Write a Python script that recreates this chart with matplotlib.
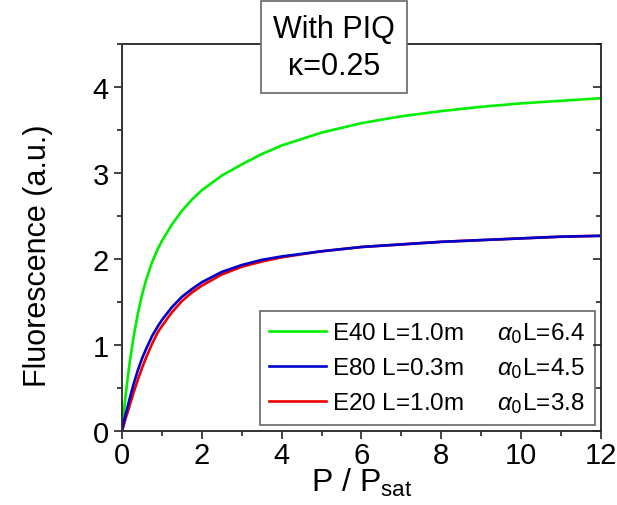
import matplotlib
matplotlib.use("Agg")
import matplotlib.pyplot as plt
from matplotlib.ticker import MultipleLocator

plt.rcParams['font.family'] = ['Liberation Sans', 'DejaVu Sans']
plt.rcParams['mathtext.fontset'] = 'custom'
plt.rcParams['mathtext.rm'] = 'Liberation Sans'
plt.rcParams['mathtext.it'] = 'Liberation Sans:italic'

# P / Psat sample points
p_ratio = [0, 0.05, 0.1, 0.15, 0.2, 0.3, 0.4, 0.5, 0.6, 0.75, 0.9, 1, 1.25, 1.5, 1.75,
           2, 2.5, 3, 3.5, 4, 5, 6, 7, 8, 9, 10, 11, 12]

# fluorescence (a.u.) for each fibre
fl_e40 = [0, 0.24, 0.45, 0.64, 0.82, 1.12, 1.37, 1.58, 1.75, 1.96, 2.12, 2.21, 2.40, 2.56,
          2.69, 2.80, 2.97, 3.10, 3.22, 3.32, 3.47, 3.58, 3.66, 3.72, 3.77, 3.81, 3.84, 3.87]
fl_e80 = [0, 0.11, 0.21, 0.30, 0.39, 0.56, 0.71, 0.84, 0.95, 1.10, 1.22, 1.29, 1.44, 1.56,
          1.65, 1.73, 1.85, 1.93, 1.99, 2.03, 2.09, 2.14, 2.17, 2.20, 2.22, 2.24, 2.26, 2.27]
fl_e20 = [0, 0.08, 0.16, 0.23, 0.31, 0.46, 0.60, 0.73, 0.85, 1.01, 1.15, 1.22, 1.38, 1.51,
          1.61, 1.69, 1.82, 1.91, 1.97, 2.02, 2.09, 2.14, 2.17, 2.20, 2.22, 2.24, 2.26, 2.27]

labels = ["E40 L=1.0m     $\\alpha_{\\mathsf{0}}$L=6.4",
          "E80 L=0.3m     $\\alpha_{\\mathsf{0}}$L=4.5",
          "E20 L=1.0m     $\\alpha_{\\mathsf{0}}$L=3.8"]

fig = plt.figure(figsize=(6.17, 5.06), dpi=100)
ax = fig.add_axes([0.1977, 0.1462, 0.7763, 0.7648])

g, = ax.plot(p_ratio, fl_e40, color='#00ee00', lw=1.9)
r, = ax.plot(p_ratio, fl_e20, color='#ee0000', lw=1.9)
b, = ax.plot(p_ratio, fl_e80, color='#0000cc', lw=1.9)

ax.set_xlim(0, 12)
ax.set_ylim(0, 4.5)
ax.xaxis.set_major_locator(MultipleLocator(2))
ax.xaxis.set_minor_locator(MultipleLocator(1))
ax.yaxis.set_major_locator(MultipleLocator(1))
ax.yaxis.set_minor_locator(MultipleLocator(0.5))
ax.tick_params(which='both', direction='out', top=False, right=False,
               labelsize=21, width=1.2, colors='#222222', labelcolor='black')
ax.tick_params(which='major', length=6)
ax.tick_params(which='minor', length=3.5)
ax.tick_params(axis='x', pad=1)
for s in ax.spines.values():
    s.set_linewidth(1.4)
    s.set_color('#333333')

# inward ticks on the right edge
axr = ax.twinx()
axr.set_ylim(0, 4.5)
axr.yaxis.set_major_locator(MultipleLocator(1))
axr.yaxis.set_minor_locator(MultipleLocator(0.5))
axr.tick_params(which='both', direction='in', labelright=False, width=1.2, colors='#222222')
axr.tick_params(which='major', length=6)
axr.tick_params(which='minor', length=3.5)
for s in axr.spines.values():
    s.set_visible(False)

ax.set_xlabel("P / P$_{\\mathrm{sat}}$", fontsize=23, labelpad=-2)
ax.set_ylabel("Fluorescence (a.u.)", fontsize=22)
ax.yaxis.set_label_coords(-0.145, 0.455)

leg = ax.legend([g, b, r], labels, loc='lower right', bbox_to_anchor=(0.988, 0.015),
                fontsize=17.5, handlelength=2.35, handletextpad=0.25, labelspacing=0.42,
                fancybox=False, framealpha=1, borderpad=0.4, borderaxespad=0)
leg.get_frame().set_edgecolor('#666666')
leg.get_frame().set_linewidth(1.2)

ax.text(0.443, 0.992, "With PIQ\n\u03ba=0.25", transform=ax.transAxes, ha='center', va='center',
        fontsize=22, linespacing=1.3, zorder=10, clip_on=False,
        bbox=dict(boxstyle='square,pad=0.4', fc='white', ec='#666666', lw=1.2))

fig.savefig("out.png", dpi=100)
